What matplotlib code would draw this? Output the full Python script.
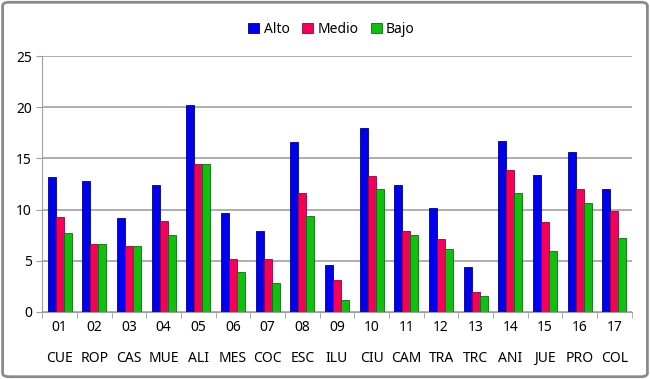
import numpy as np
import matplotlib.pyplot as plt
from matplotlib.patches import FancyBboxPatch

# 数据
codigos = ['01', '02', '03', '04', '05', '06', '07', '08', '09', '10',
           '11', '12', '13', '14', '15', '16', '17']
nombres = ['CUE', 'ROP', 'CAS', 'MUE', 'ALI', 'MES', 'COC', 'ESC', 'ILU',
           'CIU', 'CAM', 'TRA', 'TRC', 'ANI', 'JUE', 'PRO', 'COL']
alto = [13.2, 12.75, 9.2, 12.4, 20.2, 9.7, 7.9, 16.6, 4.6, 18.0, 12.4, 10.2,
        4.4, 16.7, 13.4, 15.65, 12.0]
medio = [9.3, 6.6, 6.4, 8.9, 14.45, 5.2, 5.2, 11.6, 3.1, 13.3, 7.9, 7.1,
         1.9, 13.9, 8.8, 12.0, 9.9]
bajo = [7.7, 6.6, 6.45, 7.5, 14.45, 3.9, 2.8, 9.35, 1.2, 12.0, 7.5, 6.15,
        1.55, 11.6, 6.0, 10.6, 7.2]

plt.rcParams['font.family'] = ['Noto Sans', 'DejaVu Sans']

fig = plt.figure(figsize=(6.5, 3.79), dpi=100)
ax = fig.add_axes([0.065, 0.177, 0.907, 0.675])

x = np.arange(len(codigos))
w = 0.23
ax.bar(x - w, alto, w, color='#0000f0', edgecolor='#00008a', linewidth=0.6, label='Alto')
ax.bar(x, medio, w, color='#f5005a', edgecolor='#9a0038', linewidth=0.6, label='Medio')
ax.bar(x + w, bajo, w, color='#10c010', edgecolor='#087008', linewidth=0.6, label='Bajo')

ax.set_xlim(-0.5, len(codigos) - 0.5)
ax.set_ylim(0, 25)
ax.set_yticks([0, 5, 10, 15, 20, 25])
ax.yaxis.grid(True, color='#a0a0a0', linewidth=1.2)
ax.set_axisbelow(True)

ax.set_xticks(x)
ax.set_xticklabels([c + '\n\n' + n for c, n in zip(codigos, nombres)],
                   fontsize=10, linespacing=1.05)
ax.set_xticks(np.arange(-0.5, len(codigos)), minor=True)
ax.tick_params(axis='x', which='major', length=0, pad=6)
ax.tick_params(axis='x', which='minor', length=4, color='#a0a0a0')
ax.tick_params(axis='y', length=4, color='#a0a0a0', labelsize=10)

for s in ['top', 'right']:
    ax.spines[s].set_visible(False)
for s in ['left', 'bottom']:
    ax.spines[s].set_color('#a0a0a0')

fig.legend(loc='upper center', bbox_to_anchor=(0.51, 0.975), ncol=3, frameon=False,
           fontsize=10, handlelength=0.8, handleheight=0.8, handletextpad=0.3,
           columnspacing=0.9)

# 外框
fig.patches.append(FancyBboxPatch((0.004, 0.006), 0.992, 0.988,
                                  boxstyle='round,pad=0,rounding_size=0.01',
                                  transform=fig.transFigure, fill=False,
                                  edgecolor='#8a8a8a', linewidth=2))

fig.savefig('out.png', dpi=100)
